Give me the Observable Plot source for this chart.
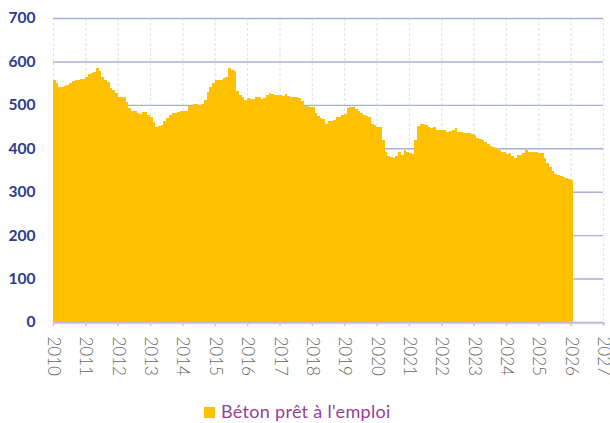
<!DOCTYPE html>
<html>
<head>
<meta charset="utf-8">
<script src="https://cdn.jsdelivr.net/npm/d3@7"></script>
<script src="https://cdn.jsdelivr.net/npm/@observablehq/plot@0.6"></script>
<style>
  body { margin: 0; background: #fff; font-family: Lato, "Open Sans", sans-serif; }
  #chart { width: 610px; height: 390px; }
  #legend { position: relative; width: 610px; height: 33px; }
  #legend .sw { position: absolute; left: 204px; top: 17px; width: 11px; height: 11px; background: #ffc000; }
  #legend .lb { position: absolute; left: 221px; top: 10px; font-size: 18px; letter-spacing: 0.3px; color: #953f98; white-space: nowrap; }
</style>
</head>
<body>
<div id="chart"></div>
<div id="legend"><span class="sw"></span><span class="lb" id="lb"></span></div>
<script>
const seriesName = "Béton prêt à l'emploi";
const startYear = 2010;
const v2010 = [558, 550, 542, 542, 544, 545, 550, 555, 558, 558, 560, 560];
const v2011 = [565, 571, 573, 575, 585, 578, 565, 558, 553, 539, 535, 527];
const v2012 = [519, 518, 517, 506, 492, 486, 485, 482, 479, 483, 483, 476];
const v2013 = [471, 461, 449, 452, 453, 463, 469, 477, 481, 481, 483, 485];
const v2014 = [485, 487, 497, 498, 501, 502, 500, 501, 511, 529, 542, 550];
const v2015 = [558, 557, 558, 561, 565, 585, 581, 577, 531, 523, 517, 512];
const v2016 = [515, 513, 514, 519, 517, 513, 515, 523, 527, 525, 522, 522];
const v2017 = [522, 521, 526, 520, 517, 517, 519, 515, 510, 497, 498, 496];
const v2018 = [495, 481, 475, 469, 467, 457, 462, 463, 465, 471, 473, 477];
const v2019 = [480, 493, 496, 494, 490, 485, 481, 477, 475, 473, 456, 454];
const v2020 = [450, 450, 419, 392, 382, 380, 377, 382, 392, 385, 395, 392];
const v2021 = [390, 387, 420, 452, 456, 455, 454, 449, 446, 449, 442, 442];
const v2022 = [443, 442, 438, 440, 442, 447, 438, 437, 436, 435, 435, 432];
const v2023 = [430, 423, 422, 419, 414, 409, 406, 402, 400, 396, 392, 391];
const v2024 = [387, 389, 383, 378, 384, 385, 389, 396, 392, 391, 391, 391];
const v2025 = [389, 388, 378, 366, 356, 347, 341, 339, 336, 335, 331, 329];
const v2026 = [327];
const yearlyValues = [v2010, v2011, v2012, v2013, v2014, v2015, v2016, v2017, v2018,
                      v2019, v2020, v2021, v2022, v2023, v2024, v2025, v2026];
const yTicks = [0, 100, 200, 300, 400, 500, 600, 700];
const xTickYears = [2010, 2011, 2012, 2013, 2014, 2015, 2016, 2017, 2018,
                    2019, 2020, 2021, 2022, 2023, 2024, 2025, 2026, 2027];

const data = yearlyValues.flatMap((arr, i) =>
  arr.map((v, m) => ({ date: new Date(Date.UTC(startYear + i, m, 1)), value: v })));
const xTickDates = xTickYears.map(y => new Date(Date.UTC(y, 0, 1)));

const chart = Plot.plot({
  width: 610,
  height: 390,
  marginLeft: 53,
  marginRight: 7,
  marginTop: 18,
  marginBottom: 68,
  style: { fontFamily: "Lato, 'Open Sans', sans-serif", background: "#fff" },
  x: { type: "utc", domain: [xTickDates[0], xTickDates[xTickDates.length - 1]] },
  y: { domain: [0, 700] },
  marks: [
    Plot.gridX(xTickDates, { stroke: "#e6e6e6", strokeOpacity: 1, strokeWidth: 1.2, strokeDasharray: "3,2" }),
    Plot.gridY(yTicks, { stroke: "#aab0da", strokeOpacity: 1, strokeWidth: 1.4 }),
    Plot.rectY(data, {
      x1: "date",
      x2: d => d3.utcMonth.offset(d.date, 1),
      y: "value",
      fill: "#ffc000",
      shapeRendering: "crispEdges"
    }),
    Plot.ruleY([0], { stroke: "#d4d4d4", strokeWidth: 1.5, dy: 1, insetRight: -2 }),
    Plot.axisX({
      ticks: xTickDates, tickFormat: "%Y", tickRotate: 90, tickSize: 4, tickPadding: 10,
      stroke: "#c8c8c8", strokeWidth: 1.5, fill: "#666666", fontSize: 17, fontWeight: 300, label: null
    }),
    Plot.axisY({
      ticks: yTicks, tickSize: 0, tickPadding: 18, fontSize: 15.5, fontWeight: "bold",
      fill: "#2b3a8f", label: null
    })
  ]
});
document.getElementById("chart").appendChild(chart);
document.getElementById("lb").textContent = seriesName;
</script>
</body>
</html>
